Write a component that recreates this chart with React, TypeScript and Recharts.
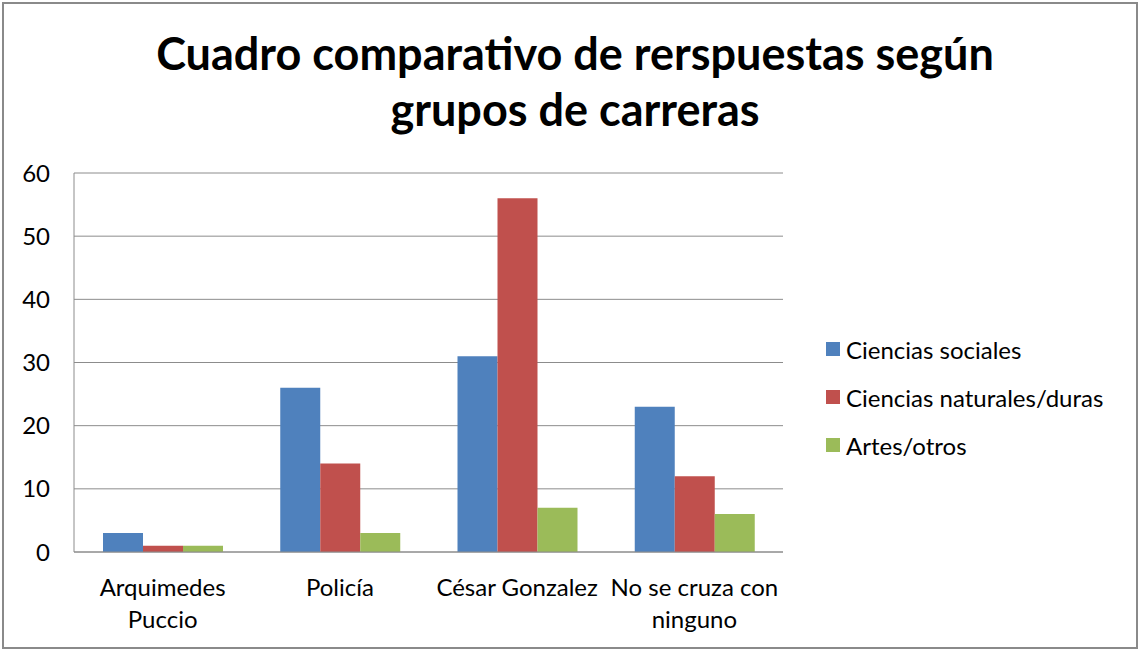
import { BarChart, Bar, XAxis, YAxis, CartesianGrid, Legend } from 'recharts';

const categories = ['Arquimedes\nPuccio', 'Policía', 'César Gonzalez', 'No se cruza con\nninguno'];
const seriesNames = ['Ciencias sociales', 'Ciencias naturales/duras', 'Artes/otros'];
const sociales = [3, 26, 31, 23];
const naturales = [1, 14, 56, 12];
const artes = [1, 3, 7, 6];
const yTicks = [0, 10, 20, 30, 40, 50, 60];

const COLORS = ['#4F81BD', '#C0504D', '#9BBB59'];
const FONT = 'Lato, "Noto Sans", sans-serif';

const data = categories.map((c, i) => ({
    name: c,
    sociales: sociales[i],
    naturales: naturales[i],
    artes: artes[i],
}));

function CategoryTick(props: any) {
    const { x, y, payload } = props;
    const lines = String(payload.value).split('\n');
    return (
        <g transform={`translate(${x},${y})`}>
            {lines.map((l, i) => (
                <text key={i} x={0} y={36 + i * 32} textAnchor="middle" fill="#000" fontSize={24} fontFamily={FONT}>
                    {l}
                </text>
            ))}
        </g>
    );
}

function LegendBox(props: any) {
    const items = [...(props.payload || [])].sort(
        (a: any, b: any) => seriesNames.indexOf(a.value) - seriesNames.indexOf(b.value)
    );
    return (
        <div style={{ fontFamily: FONT, fontSize: 24, color: '#000' }}>
            {items.map((p: any, i: number) => (
                <div key={i} style={{ display: 'flex', alignItems: 'center', height: 48 }}>
                    <span style={{ display: 'inline-block', width: 14, height: 14, background: p.color, marginRight: 6 }} />
                    <span>{p.value}</span>
                </div>
            ))}
        </div>
    );
}

export default function App() {
    return (
        <div style={{ position: 'absolute', left: 0, top: 0, width: 1140, height: 652, background: '#fff' }}>
            <div
                style={{
                    position: 'absolute', left: 0, top: 25, width: 1150, textAlign: 'center',
                    fontFamily: FONT, fontWeight: 700, fontSize: 45, lineHeight: '56px', color: '#000',
                }}
            >
                Cuadro comparativo de rerspuestas según<br />grupos de carreras
            </div>
            <BarChart
                width={1140}
                height={652}
                data={data}
                margin={{ top: 173, right: 357, bottom: 0, left: 0 }}
                barGap={0}
                barSize={40}
            >
                <CartesianGrid vertical={false} stroke="#8c8c8c" />
                <XAxis
                    dataKey="name"
                    height={100}
                    tick={<CategoryTick />}
                    tickLine={false}
                    axisLine={{ stroke: '#8c8c8c' }}
                    interval={0}
                />
                <YAxis
                    width={74}
                    domain={[0, 60]}
                    ticks={yTicks}
                    tickLine={false}
                    tickSize={0}
                    tickMargin={24}
                    axisLine={{ stroke: '#8c8c8c' }}
                    tick={{ fill: '#000', fontSize: 24, fontFamily: FONT }}
                />
                <Legend
                    layout="vertical"
                    align="center"
                    verticalAlign="middle"
                    content={<LegendBox />}
                    wrapperStyle={{ left: 826, top: 325, width: 310 }}
                />
                <Bar dataKey="sociales" name={seriesNames[0]} fill={COLORS[0]} isAnimationActive={false} />
                <Bar dataKey="naturales" name={seriesNames[1]} fill={COLORS[1]} isAnimationActive={false} />
                <Bar dataKey="artes" name={seriesNames[2]} fill={COLORS[2]} isAnimationActive={false} />
            </BarChart>
            <div
                style={{
                    position: 'absolute', left: 2, top: 2, width: 1136, height: 647,
                    border: '2px solid #8a8a8a', boxSizing: 'border-box', pointerEvents: 'none',
                }}
            />
        </div>
    );
}
